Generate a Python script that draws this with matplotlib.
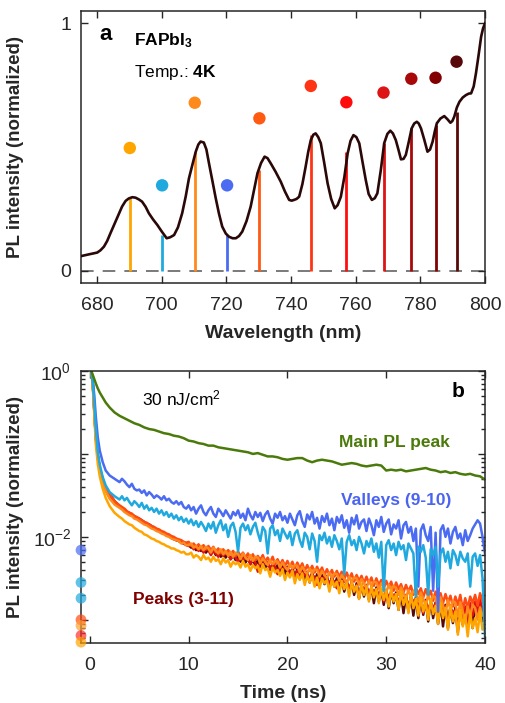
import numpy as np
import matplotlib
matplotlib.use("Agg")
import matplotlib.pyplot as plt

plt.rcParams['font.family'] = ['Liberation Sans', 'DejaVu Sans']
plt.rcParams['mathtext.fontset'] = 'custom'
plt.rcParams['mathtext.rm'] = 'Liberation Sans'
plt.rcParams['mathtext.it'] = 'Liberation Sans:italic'
plt.rcParams['mathtext.bf'] = 'Liberation Sans:bold'

# ---------------- (a) PL spectrum ----------------
wl = [675.1, 677.5, 680.0, 681.0, 682.1, 683.1, 684.1, 685.9, 687.7, 688.8,
      689.8, 690.9, 691.9, 692.9, 693.9, 695.0, 696.0, 697.3, 698.6, 700.0,
      701.5, 702.6, 703.8, 705.0, 706.3, 707.4, 708.4, 709.5, 710.5, 711.3,
      712.0, 713.0, 713.8, 714.6, 715.7, 716.7, 717.7, 718.7, 719.8, 720.8,
      721.9, 722.9, 723.9, 724.9, 726.2, 727.5, 728.6, 729.6, 730.7, 731.8,
      732.7, 733.7, 735.2, 736.8, 738.1, 739.4, 740.2, 740.9, 741.7, 742.5,
      743.5, 744.5, 745.3, 746.1, 746.9, 747.6, 748.4, 749.2, 750.2, 751.3,
      752.4, 753.5, 754.4, 755.4, 756.5, 757.5, 758.4, 759.3, 760.2, 761.1,
      762.1, 763.1, 764.0, 765.0, 765.9, 766.7, 767.8, 768.8, 769.8, 770.7,
      771.5, 772.4, 773.2, 774.0, 774.8, 775.5, 776.4, 777.3, 778.1, 778.9,
      779.5, 780.2, 781.2, 782.2, 783.0, 783.8, 784.5, 785.1, 786.2, 787.4,
      788.4, 789.3, 789.9, 790.5, 791.3, 792.1, 793.1, 794.1, 795.0, 795.7,
      796.5, 797.2, 798.0, 798.8, 799.4, 800.0]
pl = [0.059, 0.066, 0.073, 0.082, 0.097, 0.120, 0.151, 0.205, 0.259, 0.282,
      0.292, 0.297, 0.295, 0.288, 0.279, 0.258, 0.232, 0.207, 0.185, 0.158,
      0.131, 0.135, 0.144, 0.175, 0.232, 0.300, 0.373, 0.430, 0.481, 0.510,
      0.522, 0.518, 0.490, 0.434, 0.360, 0.292, 0.230, 0.178, 0.150, 0.137,
      0.131, 0.131, 0.140, 0.158, 0.200, 0.259, 0.330, 0.394, 0.435, 0.461,
      0.455, 0.434, 0.400, 0.360, 0.320, 0.286, 0.283, 0.286, 0.290, 0.299,
      0.350, 0.420, 0.480, 0.528, 0.550, 0.555, 0.540, 0.515, 0.440, 0.353,
      0.290, 0.252, 0.265, 0.299, 0.380, 0.474, 0.525, 0.548, 0.540, 0.515,
      0.440, 0.367, 0.310, 0.286, 0.293, 0.313, 0.410, 0.515, 0.553, 0.566,
      0.555, 0.528, 0.490, 0.450, 0.452, 0.468, 0.520, 0.575, 0.595, 0.602,
      0.595, 0.575, 0.530, 0.481, 0.490, 0.522, 0.565, 0.596, 0.615, 0.625,
      0.612, 0.598, 0.605, 0.623, 0.660, 0.683, 0.700, 0.710, 0.716, 0.717,
      0.745, 0.798, 0.870, 0.946, 0.980, 1.000]

feature_wl = [690.1, 700.1, 710.2, 720.2, 730.2, 746.1, 757.1, 768.6, 777.2, 784.7, 791.2]
feature_pl = [0.292, 0.144, 0.481, 0.144, 0.407, 0.549, 0.481, 0.518, 0.575, 0.589, 0.643]
feature_dot = [0.496, 0.345, 0.679, 0.345, 0.616, 0.747, 0.681, 0.720, 0.776, 0.780, 0.845]
feature_col = ['#FFA500', '#1FA9DE', '#FF8A1C', '#4A6BF2', '#FF5A12', '#FF3414',
               '#FF0D0D', '#DC1414', '#A80808', '#820000', '#580808']

# ---------------- (b) PL decays (log10 of normalized intensity) ----------------
t_main = [0.15, 0.3, 0.45, 0.6, 0.8, 1.0, 1.3, 1.6, 2.0, 2.5] + \
         [3.0 + 0.5 * i for i in range(75)]
main_log = [0, -0.05, -0.10, -0.15, -0.21, -0.26, -0.32, -0.38, -0.44, -0.50,
            -0.54, -0.57, -0.60, -0.63, -0.65, -0.68, -0.70, -0.71, -0.73, -0.75,
            -0.76, -0.78, -0.79, -0.81, -0.84, -0.85, -0.87, -0.88, -0.90, -0.90,
            -0.92, -0.93, -0.94, -0.95, -0.96, -0.97, -0.98, -1.00, -0.99, -1.01,
            -1.03, -1.03, -1.04, -1.06, -1.07, -1.06, -1.05, -1.05, -1.08, -1.10,
            -1.08, -1.07, -1.08, -1.09, -1.11, -1.13, -1.12, -1.11, -1.12, -1.14,
            -1.15, -1.14, -1.13, -1.14, -1.20, -1.19, -1.20, -1.19, -1.21, -1.20,
            -1.19, -1.18, -1.17, -1.19, -1.20, -1.22, -1.21, -1.23, -1.22, -1.24,
            -1.25, -1.24, -1.26, -1.27, -1.31]

t_trace = [0.15, 0.3, 0.45, 0.6, 0.8, 1.0, 1.3, 1.6, 2.0, 2.5] + \
          [3.0 + 0.25 * i for i in range(149)]

valley720_log = [
    0, -0.12, -0.30, -0.55, -0.80, -0.96, -1.10, -1.20, -1.26, -1.30,
    -1.34, -1.30, -1.33, -1.37, -1.40, -1.36, -1.42, -1.44,
    -1.43, -1.47, -1.44, -1.50, -1.46, -1.49, -1.53, -1.50,
    -1.52, -1.55, -1.51, -1.56, -1.54, -1.58, -1.60, -1.57,
    -1.61, -1.58, -1.64, -1.66, -1.62, -1.68, -1.64, -1.72,
    -1.66, -1.62, -1.70, -1.74, -1.68, -1.64, -1.72, -1.76,
    -1.66, -1.70, -1.75, -1.68, -1.73, -1.78, -1.70, -1.74,
    -1.68, -1.77, -1.72, -1.80, -1.66, -1.74, -1.79, -1.70,
    -1.76, -1.71, -1.81, -1.73, -1.69, -1.78, -1.84, -1.72,
    -1.77, -1.70, -1.80, -1.75, -1.83, -1.72, -1.79, -1.86,
    -1.74, -1.69, -1.81, -1.88, -1.73, -1.79, -1.70, -1.84,
    -1.77, -1.90, -1.75, -1.82, -1.72, -1.86, -1.78, -1.92,
    -1.76, -1.83, -1.74, -1.89, -1.80, -1.95, -1.77, -1.85,
    -1.74, -1.90, -1.82, -1.79, -1.93, -1.78, -1.86, -1.98,
    -1.80, -1.88, -1.76, -1.94, -1.84, -1.79, -1.97, -1.85,
    -1.90, -1.80, -2.02, -1.86, -1.82, -1.95, -1.88, -2.05,
    -1.90, -2.60, -1.92, -1.85, -1.98, -2.05, -1.88, -2.65,
    -1.95, -2.90, -1.92, -1.86, -2.00, -1.90, -2.08, -1.94,
    -1.88, -2.02, -1.96, -2.10, -1.92, -2.05, -1.98, -1.90,
    -1.85, -1.80, -1.84, -2.00, -2.20]

valley700_log = [
    0, -0.15, -0.40, -0.70, -0.98, -1.13, -1.28, -1.38, -1.46, -1.51,
    -1.55, -1.51, -1.56, -1.53, -1.58, -1.62, -1.57, -1.60,
    -1.64, -1.59, -1.66, -1.62, -1.68, -1.65, -1.70, -1.66,
    -1.72, -1.68, -1.74, -1.70, -1.76, -1.72, -1.78, -1.74,
    -1.80, -1.76, -1.82, -1.78, -1.84, -1.79, -1.86, -1.81,
    -1.88, -1.82, -1.87, -1.93, -1.84, -1.90, -1.82, -1.95,
    -1.86, -1.80, -1.92, -1.85, -2.00, -1.87, -1.83, -1.94,
    -2.18, -1.89, -1.84, -1.92, -1.86, -1.97, -1.88, -1.83,
    -1.95, -2.05, -1.88, -1.93, -2.20, -1.90, -1.86, -1.98,
    -1.92, -2.05, -1.90, -1.96, -2.02, -1.94, -2.10, -1.96,
    -1.92, -2.04, -2.12, -1.95, -2.00, -2.15, -1.96, -2.05,
    -2.30, -1.98, -2.04, -1.95, -2.08, -2.00, -2.12, -1.98,
    -2.05, -2.15, -2.02, -2.45, -2.06, -1.98, -2.10, -2.04,
    -2.16, -2.00, -2.08, -2.20, -2.05, -2.12, -2.02, -2.18,
    -2.08, -2.25, -2.06, -2.65, -2.10, -2.04, -2.16, -2.08,
    -2.22, -2.06, -2.15, -2.10, -2.28, -2.08, -2.14, -2.20,
    -2.72, -2.12, -2.18, -2.10, -2.25, -2.70, -2.15, -2.22,
    -2.12, -2.60, -2.20, -2.14, -2.30, -2.18, -2.38, -2.16,
    -2.22, -2.34, -2.18, -2.26, -2.30, -2.20, -2.60, -2.24,
    -2.20, -2.35, -2.22, -2.50, -3.20]

peak791_log = [
    0, -0.17, -0.48, -0.80, -1.02, -1.17, -1.31, -1.41, -1.49, -1.57,
    -1.63, -1.65, -1.67, -1.70, -1.71, -1.73, -1.75, -1.77,
    -1.78, -1.80, -1.82, -1.84, -1.85, -1.87, -1.89, -1.91,
    -1.92, -1.94, -1.96, -1.97, -1.98, -2.00, -2.02, -2.04,
    -2.05, -2.06, -2.08, -2.09, -2.10, -2.13, -2.11, -2.16,
    -2.12, -2.17, -2.13, -2.19, -2.15, -2.20, -2.16, -2.22,
    -2.18, -2.24, -2.19, -2.25, -2.21, -2.27, -2.22, -2.28,
    -2.23, -2.30, -2.24, -2.31, -2.26, -2.33, -2.27, -2.35,
    -2.28, -2.36, -2.30, -2.38, -2.31, -2.40, -2.32, -2.41,
    -2.34, -2.43, -2.35, -2.45, -2.36, -2.46, -2.38, -2.48,
    -2.39, -2.50, -2.40, -2.52, -2.42, -2.55, -2.43, -2.54,
    -2.45, -2.58, -2.46, -2.57, -2.47, -2.62, -2.48, -2.60,
    -2.50, -2.64, -2.51, -2.66, -2.53, -2.68, -2.54, -2.70,
    -2.56, -2.74, -2.57, -2.72, -2.58, -2.76, -2.60, -2.80,
    -2.61, -2.78, -2.63, -2.82, -2.64, -2.86, -2.65, -2.80,
    -2.67, -2.88, -2.68, -2.92, -2.70, -2.90, -2.71, -2.95,
    -2.73, -2.98, -2.74, -2.94, -2.76, -3.02, -2.77, -2.98,
    -2.79, -3.05, -2.80, -3.08, -2.82, -3.10, -2.83, -3.04,
    -2.85, -3.12, -2.86, -3.06, -2.88, -3.04, -2.84, -3.10,
    -2.82, -2.98, -2.80, -3.02, -2.95]

peak768_log = [
    0, -0.17, -0.48, -0.80, -1.02, -1.17, -1.31, -1.41, -1.49, -1.57,
    -1.64, -1.66, -1.69, -1.70, -1.72, -1.74, -1.76, -1.77,
    -1.79, -1.81, -1.83, -1.85, -1.86, -1.88, -1.90, -1.91,
    -1.93, -1.95, -1.96, -1.98, -1.99, -2.01, -2.03, -2.04,
    -2.05, -2.07, -2.08, -2.10, -2.11, -2.09, -2.15, -2.12,
    -2.17, -2.13, -2.19, -2.14, -2.16, -2.22, -2.17, -2.20,
    -2.24, -2.18, -2.23, -2.19, -2.21, -2.27, -2.22, -2.25,
    -2.30, -2.23, -2.28, -2.24, -2.26, -2.33, -2.27, -2.31,
    -2.42, -2.29, -2.34, -2.30, -2.32, -2.38, -2.33, -2.36,
    -2.45, -2.35, -2.40, -2.36, -2.38, -2.44, -2.39, -2.47,
    -2.41, -2.50, -2.42, -2.46, -2.44, -2.52, -2.45, -2.49,
    -2.58, -2.47, -2.53, -2.48, -2.50, -2.56, -2.51, -2.54,
    -2.62, -2.52, -2.58, -2.53, -2.55, -2.61, -2.56, -2.66,
    -2.58, -2.74, -2.59, -2.63, -2.60, -2.68, -2.62, -2.66,
    -2.63, -2.72, -2.64, -2.78, -2.66, -2.73, -2.67, -2.71,
    -2.69, -2.80, -2.70, -2.75, -2.72, -2.86, -2.73, -2.78,
    -2.75, -2.84, -2.76, -2.92, -2.78, -2.88, -2.79, -2.85,
    -2.81, -2.98, -2.82, -2.90, -2.84, -3.05, -2.85, -2.92,
    -2.88, -3.15, -2.86, -2.96, -2.84, -3.08, -2.80, -2.95,
    -2.78, -2.92, -2.75, -2.88, -3.00]

peak746_log = [
    0, -0.17, -0.48, -0.80, -1.02, -1.17, -1.31, -1.41, -1.49, -1.57,
    -1.62, -1.64, -1.66, -1.69, -1.71, -1.72, -1.75, -1.76,
    -1.78, -1.80, -1.82, -1.83, -1.85, -1.87, -1.88, -1.90,
    -1.91, -1.93, -1.94, -1.96, -1.97, -1.99, -2.00, -2.02,
    -2.03, -2.04, -2.06, -2.07, -2.06, -2.11, -2.08, -2.12,
    -2.09, -2.14, -2.10, -2.15, -2.11, -2.16, -2.12, -2.18,
    -2.14, -2.19, -2.15, -2.20, -2.16, -2.21, -2.17, -2.23,
    -2.18, -2.23, -2.19, -2.25, -2.20, -2.26, -2.21, -2.28,
    -2.23, -2.28, -2.22, -2.30, -2.25, -2.31, -2.24, -2.33,
    -2.27, -2.34, -2.28, -2.35, -2.29, -2.36, -2.30, -2.38,
    -2.31, -2.38, -2.32, -2.41, -2.34, -2.41, -2.35, -2.43,
    -2.36, -2.43, -2.37, -2.46, -2.39, -2.46, -2.40, -2.48,
    -2.41, -2.48, -2.42, -2.51, -2.43, -2.51, -2.44, -2.54,
    -2.46, -2.53, -2.47, -2.56, -2.48, -2.56, -2.49, -2.59,
    -2.50, -2.58, -2.52, -2.62, -2.53, -2.61, -2.54, -2.65,
    -2.55, -2.63, -2.57, -2.67, -2.58, -2.66, -2.59, -2.70,
    -2.61, -2.69, -2.62, -2.73, -2.63, -2.72, -2.65, -2.77,
    -2.66, -2.75, -2.68, -2.80, -2.69, -2.79, -2.71, -2.84,
    -2.72, -2.82, -2.70, -2.88, -2.74, -2.86, -2.72, -2.80,
    -2.70, -2.83, -2.68, -2.78, -2.85]

peak710_log = [
    0, -0.18, -0.50, -0.82, -1.05, -1.20, -1.35, -1.45, -1.54, -1.61,
    -1.65, -1.67, -1.70, -1.72, -1.74, -1.75, -1.78, -1.79,
    -1.81, -1.83, -1.85, -1.86, -1.88, -1.90, -1.91, -1.93,
    -1.94, -1.96, -1.97, -1.99, -2.00, -2.02, -2.03, -2.04,
    -2.05, -2.08, -2.07, -2.10, -2.10, -2.08, -2.13, -2.11,
    -2.15, -2.11, -2.16, -2.12, -2.14, -2.19, -2.13, -2.17,
    -2.20, -2.15, -2.21, -2.17, -2.23, -2.18, -2.24, -2.19,
    -2.21, -2.27, -2.20, -2.25, -2.28, -2.22, -2.29, -2.24,
    -2.25, -2.32, -2.26, -2.30, -2.34, -2.28, -2.33, -2.29,
    -2.30, -2.37, -2.31, -2.36, -2.40, -2.33, -2.38, -2.34,
    -2.35, -2.43, -2.36, -2.41, -2.45, -2.38, -2.44, -2.39,
    -2.40, -2.48, -2.41, -2.46, -2.50, -2.43, -2.49, -2.44,
    -2.45, -2.53, -2.46, -2.51, -2.56, -2.48, -2.54, -2.49,
    -2.50, -2.58, -2.51, -2.56, -2.62, -2.53, -2.59, -2.54,
    -2.55, -2.63, -2.56, -2.61, -2.67, -2.58, -2.64, -2.59,
    -2.62, -2.70, -2.61, -2.68, -2.74, -2.64, -2.72, -2.65,
    -2.68, -2.78, -2.67, -2.75, -2.82, -2.70, -2.79, -2.71,
    -2.74, -2.86, -2.73, -2.83, -2.92, -2.76, -2.88, -2.77,
    -2.80, -2.96, -2.79, -2.90, -3.02, -2.84, -2.95, -2.82,
    -2.86, -3.00, -2.85, -2.95, -2.92]

peak690_log = [
    0, -0.20, -0.55, -0.88, -1.12, -1.27, -1.42, -1.53, -1.63, -1.71,
    -1.76, -1.78, -1.81, -1.83, -1.85, -1.86, -1.89, -1.91,
    -1.93, -1.94, -1.97, -1.98, -2.00, -2.02, -2.03, -2.05,
    -2.06, -2.08, -2.09, -2.11, -2.12, -2.14, -2.14, -2.16,
    -2.17, -2.19, -2.18, -2.21, -2.21, -2.19, -2.25, -2.22,
    -2.24, -2.28, -2.22, -2.27, -2.25, -2.30, -2.24, -2.29,
    -2.27, -2.33, -2.26, -2.31, -2.28, -2.36, -2.30, -2.33,
    -2.31, -2.37, -2.29, -2.36, -2.33, -2.41, -2.34, -2.38,
    -2.35, -2.44, -2.33, -2.40, -2.38, -2.48, -2.37, -2.43,
    -2.40, -2.47, -2.39, -2.52, -2.43, -2.49, -2.41, -2.56,
    -2.45, -2.52, -2.44, -2.58, -2.47, -2.55, -2.46, -2.60,
    -2.49, -2.62, -2.50, -2.56, -2.52, -2.66, -2.51, -2.60,
    -2.54, -2.68, -2.53, -2.63, -2.56, -2.72, -2.55, -2.66,
    -2.59, -2.75, -2.57, -2.70, -2.61, -2.78, -2.60, -2.73,
    -2.63, -2.80, -2.62, -2.76, -2.66, -2.84, -2.64, -2.78,
    -2.69, -2.88, -2.66, -2.82, -2.72, -2.92, -2.70, -2.86,
    -2.75, -2.95, -2.73, -2.90, -2.79, -3.00, -2.76, -2.93,
    -2.83, -3.05, -2.80, -2.98, -2.86, -3.12, -2.84, -3.02,
    -2.90, -3.18, -2.88, -3.08, -2.94, -3.20, -2.92, -3.10,
    -2.98, -3.15, -2.90, -3.12, -3.05]

# decay traces, drawn bottom to top
decays = [
    (t_trace, peak791_log, '#580808'),
    (t_trace, peak768_log, '#DC1414'),
    (t_trace, peak746_log, '#FF4A12'),
    (t_trace, peak710_log, '#FF8A1C'),
    (t_trace, peak690_log, '#FFA500'),
    (t_trace, valley720_log, '#4A6BF2'),
    (t_trace, valley700_log, '#1FA9DE'),
    (t_main, main_log, '#4A7A0A'),
]

# pre-excitation levels shown as dots on the left axis
pre_log = [-2.16, -2.55, -2.74, -3.00, -3.07, -3.19, -3.27]
pre_col = ['#4A6BF2', '#1FA9DE', '#1FA9DE', '#FF4A12', '#FFA030', '#FF3030', '#FFA500']

W, H = 505, 703
fig = plt.figure(figsize=(W / 100, H / 100), dpi=100)

ax1 = fig.add_axes([81 / W, 1 - 283 / H, 404 / W, 272 / H])
ax2 = fig.add_axes([81 / W, 1 - 643 / H, 404 / W, 272 / H])

for ax in (ax1, ax2):
    for s in ax.spines.values():
        s.set_linewidth(1.1)
        s.set_color('#262626')
    ax.tick_params(which='both', direction='in', top=True, right=True,
                   width=1.0, color='#262626', labelsize=14, labelcolor='#262626')
    ax.tick_params(which='major', length=5)
    ax.tick_params(which='minor', length=3)
    ax.tick_params(axis='x', pad=10)
    ax.tick_params(axis='y', pad=7)

# panel a
ax1.axhline(0, color='#707070', lw=1.3, dashes=(7, 5), zorder=1)
ax1.vlines(feature_wl, 0, feature_pl, colors=feature_col, lw=2.0, zorder=2)
ax1.plot(wl, pl, color='#2A0808', lw=1.9, zorder=3)
ax1.scatter(feature_wl, feature_dot, s=80, c=feature_col, edgecolors='none', zorder=4)
ax1.set_xlim(675, 800)
ax1.set_ylim(-0.05, 1.05)
ax1.set_xticks([680, 700, 720, 740, 760, 780, 800])
ax1.set_yticks([0, 1])
ax1.set_xlabel('Wavelength (nm)', fontsize=14, fontweight='bold', color='#262626')
ax1.set_ylabel('PL intensity (normalized)', fontsize=13.5, fontweight='bold', color='#262626')
ax1.xaxis.set_label_coords(0.5, -0.155)
ax1.yaxis.set_label_coords(-0.14, 0.5)
ax1.text(682.6, 0.953, 'a', fontsize=16, fontweight='bold', ha='center', va='center')
ax1.text(691.4, 0.913, r'FAPbI$_\mathbf{3}$', fontsize=12.5, fontweight='bold', ha='left', va='baseline')
ax1.text(691.4, 0.785, r'Temp.: $\mathbf{4K}$', fontsize=12.5, ha='left', va='baseline')

# panel b
for tt, vals, col in decays:
    ax2.plot(tt, 10 ** np.array(vals), color=col, lw=1.8)
ax2.scatter([-0.9] * len(pre_log), 10 ** np.array(pre_log), s=60, c=pre_col,
            alpha=0.7, edgecolors='none', clip_on=False, zorder=5)
ax2.set_yscale('log')
ax2.set_xlim(-0.9, 40)
ax2.set_ylim(10 ** -3.28, 1)
ax2.set_xticks([0, 10, 20, 30, 40])
ax2.set_yticks([1e-3, 1e-2, 1e-1, 1])
ax2.set_yticklabels(['', r'$10^{-2}$', '', r'$10^{0}$'])
ax2.yaxis.set_minor_locator(matplotlib.ticker.LogLocator(base=10, subs=np.arange(2, 10)))
ax2.yaxis.set_minor_formatter(matplotlib.ticker.NullFormatter())
ax2.set_xlabel('Time (ns)', fontsize=14, fontweight='bold', color='#262626')
ax2.set_ylabel('PL intensity (normalized)', fontsize=13.5, fontweight='bold', color='#262626')
ax2.xaxis.set_label_coords(0.5, -0.155)
ax2.yaxis.set_label_coords(-0.14, 0.5)
ax2.text(5.24, 10 ** -0.409, r'30 nJ/cm$^2$', fontsize=12.5, ha='left', va='baseline')
ax2.text(37.3, 10 ** -0.253, 'b', fontsize=15, fontweight='bold', ha='center', va='center')
ax2.text(25.25, 10 ** -0.913, 'Main PL peak', fontsize=12.5, fontweight='bold',
         color='#4A7A0A', ha='left', va='baseline')
ax2.text(25.4, 10 ** -1.617, 'Valleys (9-10)', fontsize=12.5, fontweight='bold',
         color='#4A64F0', ha='left', va='baseline')
ax2.text(4.39, 10 ** -2.805, 'Peaks (3-11)', fontsize=12.5, fontweight='bold',
         color='#800000', ha='left', va='baseline')

fig.savefig('out.png', dpi=100)
